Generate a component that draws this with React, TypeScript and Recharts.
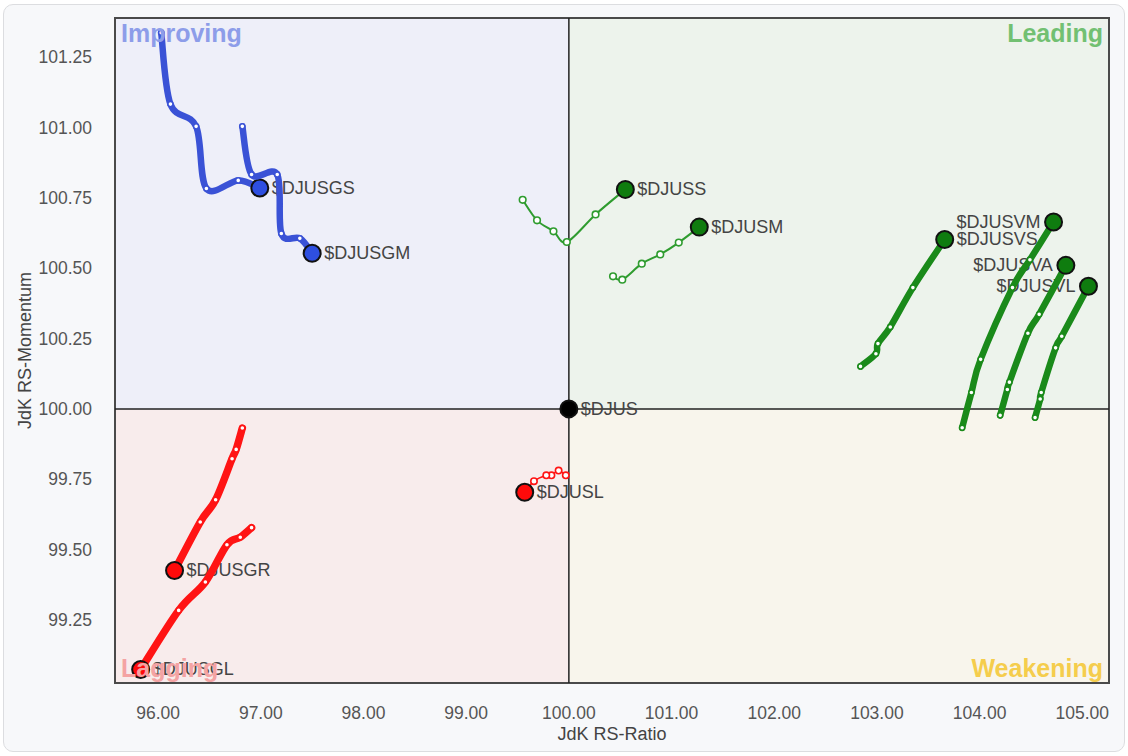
import React from 'react';
import {
  ScatterChart,
  Scatter,
  XAxis,
  YAxis,
  CartesianGrid,
  ReferenceArea,
  ReferenceLine,
} from 'recharts';

// JdK RS-Ratio / RS-Momentum pairs, oldest point first, head last
const djusgs = [[96.03, 101.337], [96.12, 101.083], [96.37, 101.004], [96.47, 100.783], [96.78, 100.812], [96.99, 100.785]];
const djusgm = [[96.82, 101.004], [96.91, 100.833], [97.16, 100.833], [97.2, 100.623], [97.38, 100.606], [97.5, 100.553]];
const djuss = [[99.55, 100.743], [99.69, 100.67], [99.85, 100.631], [99.98, 100.593], [100.26, 100.691], [100.55, 100.78]];
const djusm = [[100.43, 100.471], [100.52, 100.459], [100.71, 100.516], [100.89, 100.549], [101.07, 100.591], [101.27, 100.646]];
const djusvs = [[102.84, 100.151], [102.99, 100.196], [103.01, 100.232], [103.13, 100.291], [103.35, 100.431], [103.66, 100.602]];
const djusvm = [[103.83, 99.933], [103.92, 100.058], [104.01, 100.176], [104.32, 100.431], [104.49, 100.53], [104.72, 100.664]];
const djusva = [[104.2, 99.977], [104.27, 100.069], [104.29, 100.095], [104.47, 100.269], [104.58, 100.336], [104.84, 100.51]];
const djusvl = [[104.54, 99.969], [104.59, 100.035], [104.6, 100.058], [104.74, 100.217], [104.8, 100.258], [105.06, 100.436]];
const djusgr = [[96.82, 99.932], [96.76, 99.856], [96.72, 99.823], [96.56, 99.677], [96.41, 99.598], [96.16, 99.426]];
const djusgl = [[96.91, 99.578], [96.8, 99.544], [96.67, 99.517], [96.46, 99.385], [96.2, 99.284], [95.83, 99.074]];
const djusl = [[99.97, 99.764], [99.9, 99.781], [99.83, 99.764], [99.78, 99.764], [99.66, 99.743], [99.57, 99.704]];
const djus = [[100, 100]];

const xTicks = [96, 97, 98, 99, 100, 101, 102, 103, 104, 105];
const yTicks = [99.25, 99.5, 99.75, 100, 100.25, 100.5, 100.75, 101, 101.25];

const X_MIN = 95.58;
const X_MAX = 105.26;
const Y_MIN = 99.026;
const Y_MAX = 101.389;

const FONT = '"Liberation Sans", Arial, sans-serif';

const BLUE = '#3a52d6';
const RED = '#ff1414';
const GREEN = '#1a8a1a';
const GREEN_THIN = '#2f9c2f';

const series = [
  { name: '$DJUSL', pts: djusl, color: RED, head: '#ff0a0a', width: 1.6, dot: 3.2, side: 'right' },
  { name: '$DJUSGR', pts: djusgr, color: RED, head: '#ff0a0a', width: 7.5, dot: 2.6, side: 'right' },
  { name: '$DJUSGL', pts: djusgl, color: RED, head: '#ff0a0a', width: 7.5, dot: 2.6, side: 'right' },
  { name: '$DJUSGS', pts: djusgs, color: BLUE, head: '#2e4fe0', width: 6.5, dot: 2.6, side: 'right' },
  { name: '$DJUSGM', pts: djusgm, color: BLUE, head: '#2e4fe0', width: 6.5, dot: 2.6, side: 'right' },
  { name: '$DJUSS', pts: djuss, color: GREEN_THIN, head: '#0f7c0f', width: 2, dot: 3.3, side: 'right' },
  { name: '$DJUSM', pts: djusm, color: GREEN_THIN, head: '#0f7c0f', width: 2, dot: 3.3, side: 'right' },
  { name: '$DJUSVS', pts: djusvs, color: GREEN, head: '#0f7c0f', width: 6.5, dot: 2.6, side: 'right' },
  { name: '$DJUSVL', pts: djusvl, color: GREEN, head: '#0f7c0f', width: 6.5, dot: 2.6, side: 'left' },
  { name: '$DJUSVA', pts: djusva, color: GREEN, head: '#0f7c0f', width: 6.5, dot: 2.6, side: 'left' },
  { name: '$DJUSVM', pts: djusvm, color: GREEN, head: '#0f7c0f', width: 6.5, dot: 2.6, side: 'left' },
  { name: '$DJUS', pts: djus, color: '#000', head: '#000', width: 0, dot: 0, side: 'right' },
];

// Catmull-Rom style curve factory (passed through to recharts' Curve)
function smoothTrail(context: any) {
  let pts: number[][] = [];
  return {
    areaStart() {},
    areaEnd() {},
    lineStart() {
      pts = [];
    },
    lineEnd() {
      if (!pts.length) return;
      context.moveTo(pts[0][0], pts[0][1]);
      for (let i = 0; i < pts.length - 1; i++) {
        const p0 = pts[i - 1] || pts[i];
        const p1 = pts[i];
        const p2 = pts[i + 1];
        const p3 = pts[i + 2] || p2;
        context.bezierCurveTo(
          p1[0] + (p2[0] - p0[0]) / 6,
          p1[1] + (p2[1] - p0[1]) / 6,
          p2[0] - (p3[0] - p1[0]) / 6,
          p2[1] - (p3[1] - p1[1]) / 6,
          p2[0],
          p2[1]
        );
      }
    },
    point(x: number, y: number) {
      pts.push([+x, +y]);
    },
  };
}

function makeShape(s: any) {
  return (props: any) => {
    const { cx, cy, payload } = props;
    if (cx == null || cy == null) return null;
    if (payload.last) {
      const right = s.side === 'right';
      return (
        <g>
          <circle cx={cx} cy={cy} r={8.5} fill={s.head} stroke="#111" strokeWidth={2} />
          <text
            x={right ? cx + 12 : cx - 13}
            y={cy + 6}
            textAnchor={right ? 'start' : 'end'}
            fill="#444"
            fontSize={18}
            fontFamily={FONT}
          >
            {s.name}
          </text>
        </g>
      );
    }
    return <circle cx={cx} cy={cy} r={s.dot} fill="#fff" stroke={s.color} strokeWidth={1.6} />;
  };
}

const quadLabel = (value: string, position: any, fill: string) => ({
  value,
  position,
  offset: 6,
  fill,
  fontSize: 25,
  fontWeight: 'bold',
  fontFamily: FONT,
});

export default function App() {
  return (
    <div style={{ position: 'absolute', left: 0, top: 0, width: 1128, height: 756, background: '#fff' }}>
      <div
        style={{
          position: 'absolute',
          left: 3,
          top: 4,
          width: 1120,
          height: 746,
          background: '#f7f8fa',
          border: '1px solid #dcdde0',
          borderRadius: 10,
        }}
      />
      <div style={{ position: 'absolute', left: 0, top: 0 }}>
        <ScatterChart width={1128} height={756} margin={{ top: 18, right: 19, left: 15, bottom: 13 }}>
          <ReferenceArea x1={X_MIN} x2={100} y1={100} y2={Y_MAX} fill="#eeeff9" fillOpacity={1} stroke="none"
            label={quadLabel('Improving', 'insideTopLeft', '#8d9de9')} />
          <ReferenceArea x1={100} x2={X_MAX} y1={100} y2={Y_MAX} fill="#edf3ec" fillOpacity={1} stroke="none"
            label={quadLabel('Leading', 'insideTopRight', '#72c072')} />
          <ReferenceArea x1={X_MIN} x2={100} y1={Y_MIN} y2={100} fill="#f8ecec" fillOpacity={1} stroke="none"
            label={quadLabel('Lagging', 'insideBottomLeft', '#f4a3a3')} />
          <ReferenceArea x1={100} x2={X_MAX} y1={Y_MIN} y2={100} fill="#f8f5ec" fillOpacity={1} stroke="none"
            label={quadLabel('Weakening', 'insideBottomRight', '#f5cd4c')} />
          <CartesianGrid stroke="#dddddd" strokeWidth={1} />
          <ReferenceLine x={100} stroke="#222" strokeWidth={1.5} />
          <ReferenceLine y={100} stroke="#222" strokeWidth={1.5} />
          <ReferenceArea x1={X_MIN} x2={X_MAX} y1={Y_MIN} y2={Y_MAX} fill="none" stroke="#4a4a4a" strokeWidth={2} />
          <XAxis
            dataKey="x"
            type="number"
            domain={[X_MIN, X_MAX]}
            ticks={xTicks}
            allowDataOverflow
            tickFormatter={(v: number) => v.toFixed(2)}
            axisLine={false}
            tickLine={false}
            tickSize={0}
            tickMargin={24}
            height={60}
            tick={{ fill: '#555', fontSize: 17.5, fontFamily: FONT }}
            label={{ value: 'JdK RS-Ratio', position: 'insideBottom', offset: 3, fill: '#444', fontSize: 18, fontFamily: FONT }}
          />
          <YAxis
            dataKey="y"
            type="number"
            domain={[Y_MIN, Y_MAX]}
            ticks={yTicks}
            allowDataOverflow
            tickFormatter={(v: number) => v.toFixed(2)}
            axisLine={false}
            tickLine={false}
            tickSize={0}
            tickMargin={23}
            width={100}
            tick={{ fill: '#555', fontSize: 17.5, fontFamily: FONT }}
            label={{
              value: 'JdK RS-Momentum',
              angle: -90,
              position: 'insideLeft',
              offset: 10,
              fill: '#444',
              fontSize: 18,
              fontFamily: FONT,
              style: { textAnchor: 'middle' },
            }}
          />
          {series.map((s) => (
            <Scatter
              key={s.name}
              name={s.name}
              data={s.pts.map(([x, y], i) => ({ x, y, last: i === s.pts.length - 1 }))}
              line={s.width > 0 ? { stroke: s.color, strokeWidth: s.width, strokeLinecap: 'round', strokeLinejoin: 'round' } : false}
              lineJointType={smoothTrail as any}
              shape={makeShape(s)}
              isAnimationActive={false}
            />
          ))}
        </ScatterChart>
      </div>
    </div>
  );
}
